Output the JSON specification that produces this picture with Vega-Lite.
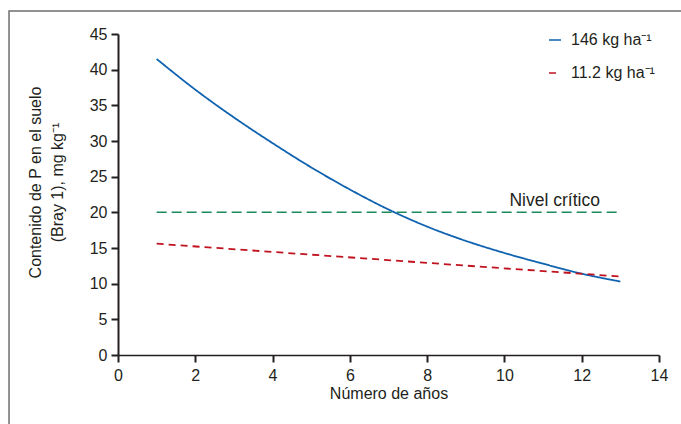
{
  "$schema": "https://vega.github.io/schema/vega-lite/v6.json",
  "width": 541,
  "height": 321,
  "autosize": {"type": "none"},
  "padding": {"left": 118, "top": 34, "right": 22, "bottom": 69},
  "background": "white",
  "config": {
    "font": "Liberation Sans",
    "view": {"stroke": null},
    "axis": {
      "grid": false,
      "labelFont": "Liberation Sans",
      "titleFont": "Liberation Sans",
      "labelFontSize": 16,
      "titleFontSize": 16,
      "titleFontWeight": "normal",
      "labelColor": "#231f20",
      "titleColor": "#231f20",
      "domainColor": "#231f20",
      "tickColor": "#231f20",
      "tickSize": 7,
      "tickWidth": 2,
      "labelOverlap": false,
      "labelFlush": false
    },
    "axisX": {
      "domainWidth": 1.5,
      "labelPadding": 5,
      "titlePadding": 2,
      "tickCount": 8
    },
    "axisY": {
      "domainWidth": 2,
      "labelPadding": 4,
      "titlePadding": 24,
      "titleLineHeight": 22,
      "titleY": 148,
      "tickCount": 10
    },
    "legend": {
      "labelFont": "Liberation Sans",
      "labelFontSize": 16,
      "labelColor": "#231f20"
    }
  },
  "datasets": {
    "curvas": [
      {"anio": 1, "P": 41.5, "serie": "146 kg ha⁻¹"},
      {"anio": 2, "P": 37.2, "serie": "146 kg ha⁻¹"},
      {"anio": 3, "P": 33.3, "serie": "146 kg ha⁻¹"},
      {"anio": 4, "P": 29.7, "serie": "146 kg ha⁻¹"},
      {"anio": 5, "P": 26.3, "serie": "146 kg ha⁻¹"},
      {"anio": 6, "P": 23.2, "serie": "146 kg ha⁻¹"},
      {"anio": 7, "P": 20.4, "serie": "146 kg ha⁻¹"},
      {"anio": 8, "P": 18.0, "serie": "146 kg ha⁻¹"},
      {"anio": 9, "P": 16.0, "serie": "146 kg ha⁻¹"},
      {"anio": 10, "P": 14.3, "serie": "146 kg ha⁻¹"},
      {"anio": 11, "P": 12.8, "serie": "146 kg ha⁻¹"},
      {"anio": 12, "P": 11.4, "serie": "146 kg ha⁻¹"},
      {"anio": 13, "P": 10.3, "serie": "146 kg ha⁻¹"},
      {"anio": 1, "P": 15.6, "serie": "11.2 kg ha⁻¹"},
      {"anio": 13, "P": 11.0, "serie": "11.2 kg ha⁻¹"}
    ],
    "critico": [
      {"anio": 1, "P": 20},
      {"anio": 13, "P": 20}
    ],
    "uno": [{}]
  },
  "layer": [
    {
      "data": {"name": "uno"},
      "mark": {"type": "rect", "fill": "transparent", "stroke": "#6d6e71", "strokeWidth": 1.5, "clip": false},
      "encoding": {
        "x": {"datum": -2.82, "type": "quantitative", "title": "Número de años", "scale": {"domain": [0, 14], "nice": false}, "axis": {"values": [0, 2, 4, 6, 8, 10, 12, 14], "format": "d"}},
        "x2": {"datum": 14.9},
        "y": {"datum": 48.22, "type": "quantitative", "title": ["Contenido de P en el suelo", "(Bray 1), mg kg⁻¹"], "scale": {"domain": [0, 45], "nice": false}, "axis": {"values": [0, 5, 10, 15, 20, 25, 30, 35, 40, 45], "format": "d"}},
        "y2": {"datum": -12}
      }
    },
    {
      "data": {"name": "critico"},
      "mark": {"type": "line", "color": "#1a8a5c", "strokeWidth": 1.5, "strokeDash": [10, 5]},
      "encoding": {
        "x": {"field": "anio", "type": "quantitative", "title": "Número de años", "axis": {"values": [0, 2, 4, 6, 8, 10, 12, 14], "format": "d"}},
        "y": {"field": "P", "type": "quantitative", "title": ["Contenido de P en el suelo", "(Bray 1), mg kg⁻¹"], "axis": {"values": [0, 5, 10, 15, 20, 25, 30, 35, 40, 45], "format": "d"}}
      }
    },
    {
      "data": {"name": "curvas"},
      "mark": {"type": "line", "strokeWidth": 1.8, "interpolate": "monotone"},
      "encoding": {
        "x": {"field": "anio", "type": "quantitative", "title": "Número de años", "axis": {"values": [0, 2, 4, 6, 8, 10, 12, 14], "format": "d"}},
        "y": {"field": "P", "type": "quantitative", "title": ["Contenido de P en el suelo", "(Bray 1), mg kg⁻¹"], "axis": {"values": [0, 5, 10, 15, 20, 25, 30, 35, 40, 45], "format": "d"}},
        "color": {
          "field": "serie",
          "type": "nominal",
          "scale": {"domain": ["146 kg ha⁻¹", "11.2 kg ha⁻¹"], "range": ["#0f62b0", "#c1121f"]},
          "legend": {
            "title": null,
            "orient": "none",
            "legendX": 429,
            "legendY": -2,
            "symbolType": "stroke",
            "symbolSize": 144,
            "symbolStrokeWidth": 1.5,
            "rowPadding": 17,
            "labelOffset": 8
          }
        },
        "strokeDash": {
          "field": "serie",
          "type": "nominal",
          "scale": {"domain": ["146 kg ha⁻¹", "11.2 kg ha⁻¹"], "range": [[1, 0], [7, 5]]},
          "legend": {
            "title": null,
            "orient": "none",
            "legendX": 429,
            "legendY": -2,
            "symbolType": "stroke",
            "symbolSize": 144,
            "symbolStrokeWidth": 1.5,
            "rowPadding": 17,
            "labelOffset": 8
          }
        }
      }
    },
    {
      "data": {"name": "uno"},
      "mark": {"type": "text", "text": "Nivel crítico", "fontSize": 17.5, "align": "center", "baseline": "alphabetic", "color": "#231f20", "font": "Liberation Sans"},
      "encoding": {
        "x": {"datum": 11.3, "type": "quantitative"},
        "y": {"datum": 20.9, "type": "quantitative"}
      }
    }
  ]
}
